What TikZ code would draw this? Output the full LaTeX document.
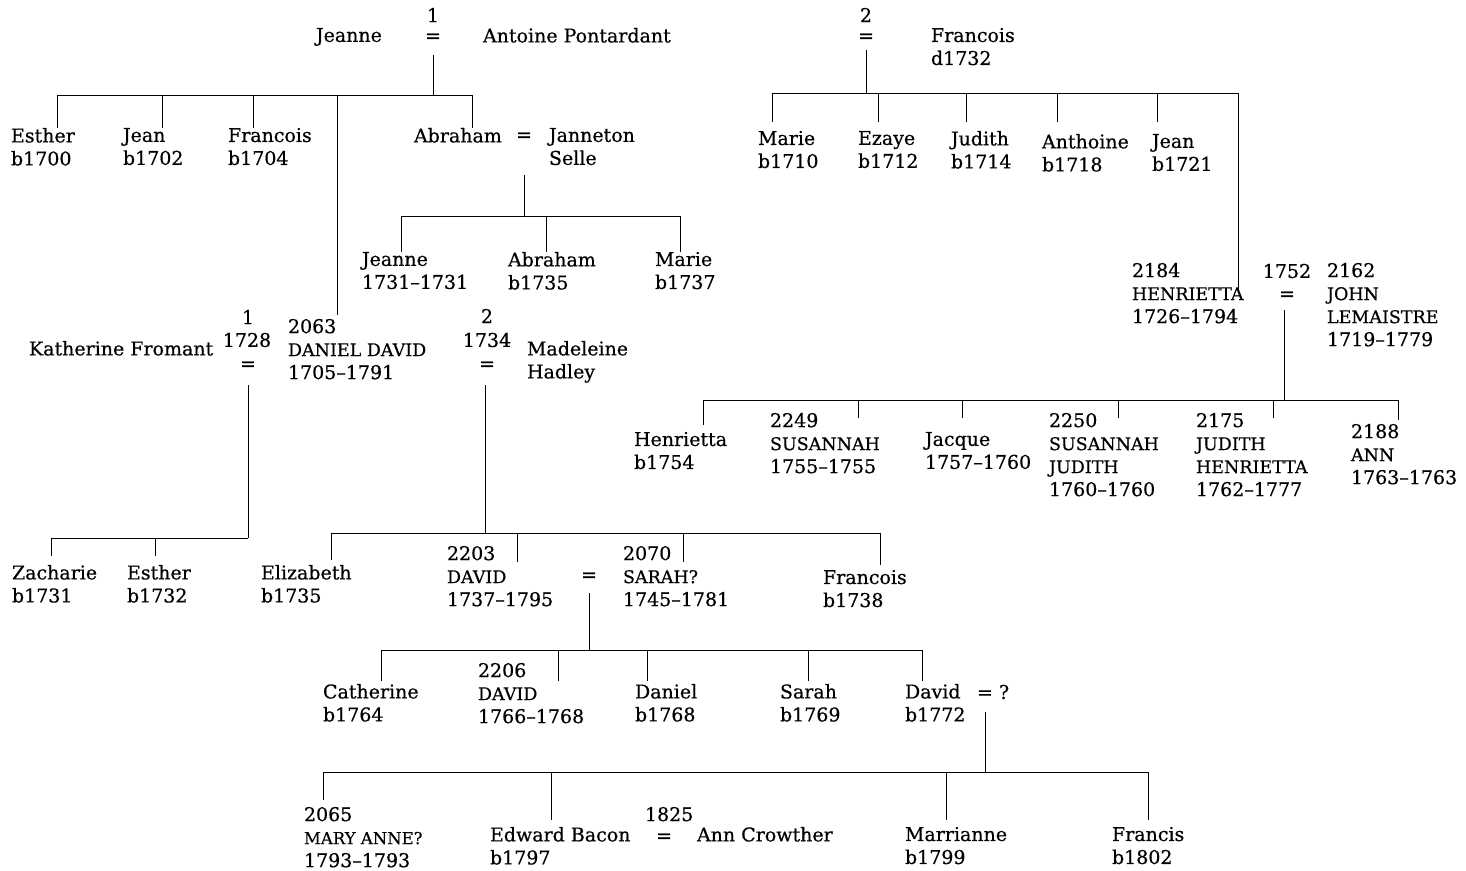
\documentclass[tikz,border=0pt]{standalone}
\usepackage{fontspec}
\setmainfont[UprightFeatures={FakeBold=0.5}]{DejaVu Serif}
\newcommand\capsz{\fontsize{17.5}{23}\selectfont}
\begin{document}
\begin{tikzpicture}[x=1pt,y=-1pt,
  every node/.style={inner sep=0pt, outer sep=0pt, font=\fontsize{19}{23}\selectfont},
  person/.style={anchor=north west, align=left},
  sym/.style={anchor=center},
  ln/.style={line width=0.8pt}]
\useasboundingbox (0,0) rectangle (1466,870);
% ---------- family 1
\node[sym] (n1) at (433,15) {1};
\node[person] (jeanne) at (316,28) {Jeanne};
\node[sym] (eq1) at (433,38) {=};
\node[person] (antoine) at (483,28) {Antoine Pontardant};
\node[person] (esther) at (11,128) {Esther\\b1700};
\node[person] (jean) at (123,128) {Jean\\b1702};
\node[person] (francois) at (228,128) {Francois\\b1704};
\node[person] (abraham) at (414,128) {Abraham};
\node[sym] (eqab) at (524,137) {=};
\node[person] (janneton) at (549,128) {Janneton\\Selle};
\node[person] (jeanneb) at (362,252) {Jeanne\\1731--1731};
\node[person] (abrahamb) at (508,252) {Abraham\\b1735};
\node[person] (marieb) at (655,252) {Marie\\b1737};
% ---------- family 2
\node[sym] (n2) at (866,15) {2};
\node[sym] (eq2) at (866,38) {=};
\node[person] (francoisd) at (931,28) {Francois\\d1732};
\node[person] (marie) at (758,131) {Marie\\b1710};
\node[person] (ezaye) at (858,131) {Ezaye\\b1712};
\node[person] (judith) at (951,131) {Judith\\b1714};
\node[person] (anthoine) at (1042,134) {Anthoine\\b1718};
\node[person] (jeanc) at (1152,134) {Jean\\b1721};
\node[person] (henrietta) at (1132,263) {2184\\{\capsz HENRIETTA}\\1726--1794};
\node[sym] (y1752) at (1287,271) {1752};
\node[sym] (eq3) at (1287,296) {=};
\node[person] (john) at (1327,263) {2162\\{\capsz JOHN}\\{\capsz LEMAISTRE}\\1719--1779};
\node[person] (henriettab) at (634,432) {Henrietta\\b1754};
\node[person] (susannah) at (770,413) {2249\\{\capsz SUSANNAH}\\1755--1755};
\node[person] (jacque) at (925,432) {Jacque\\1757--1760};
\node[person] (susannahb) at (1049,413) {2250\\{\capsz SUSANNAH}\\{\capsz JUDITH}\\1760--1760};
\node[person] (judithb) at (1196,413) {2175\\{\capsz JUDITH}\\{\capsz HENRIETTA}\\1762--1777};
\node[person] (ann) at (1351,424) {2188\\{\capsz ANN}\\1763--1763};
% ---------- Daniel David
\node[person] (katherine) at (29,341) {Katherine Fromant};
\node[sym] (m1) at (248,317) {1};
\node[sym] (y1728) at (247,340) {1728};
\node[sym] (eq4) at (248,366) {=};
\node[person] (daniel) at (288,319) {2063\\{\capsz DANIEL\ DAVID}\\1705--1791};
\node[sym] (m2) at (487,316) {2};
\node[sym] (y1734) at (487,340) {1734};
\node[sym] (eq5) at (487,366) {=};
\node[person] (madeleine) at (527,341) {Madeleine\\Hadley};
\node[person] (zacharie) at (12,565) {Zacharie\\b1731};
\node[person] (estherb) at (127,565) {Esther\\b1732};
\node[person] (elizabeth) at (261,565) {Elizabeth\\b1735};
\node[person] (david) at (447,546) {2203\\{\capsz DAVID}\\1737--1795};
\node[sym] (eq6) at (589,577) {=};
\node[person] (sarah) at (623,546) {2070\\{\capsz SARAH?}\\1745--1781};
\node[person] (francoisb) at (823,570) {Francois\\b1738};
\node[person] (catherine) at (323,684) {Catherine\\b1764};
\node[person] (davidb) at (478,663) {2206\\{\capsz DAVID}\\1766--1768};
\node[person] (danielb) at (635,684) {Daniel\\b1768};
\node[person] (sarahb) at (780,684) {Sarah\\b1769};
\node[person] (davidc) at (905,684) {David\\b1772};
\node[anchor=west] (eq7) at (977,692) {= ?};
\node[person] (mary) at (304,807) {2065\\{\fontsize{16.5}{23}\selectfont MARY ANNE?}\\1793--1793};
\node[person] (edward) at (490,827) {Edward Bacon\\b1797};
\node[person] (y1825) at (645,807) {1825};
\node[sym] (eq8) at (664,838) {=};
\node[person] (annc) at (697,827) {Ann Crowther};
\node[person] (marrianne) at (905,827) {Marrianne\\b1799};
\node[person] (francis) at (1112,827) {Francis\\b1802};
% ---------- lines
\draw[ln] (433,55) -- (433,95);
\draw[ln] (57,95) -- (472,95);
\foreach \x in {57,162,253,472} \draw[ln] (\x,95) -- (\x,128);
\draw[ln] (337,95) -- (337,315);
\draw[ln] (524,175) -- (524,216);
\draw[ln] (401,216) -- (680,216);
\foreach \x in {401,546,680} \draw[ln] (\x,216) -- (\x,252);
\draw[ln] (866,50) -- (866,93);
\draw[ln] (772,93) -- (1238,93);
\foreach \x in {772,878,966,1057,1157} \draw[ln] (\x,93) -- (\x,122);
\draw[ln] (1238,93) -- (1238,292);
\draw[ln] (1284,310) -- (1284,400);
\draw[ln] (703,400) -- (1398,400);
\foreach \x/\y in {703/425,858/418,962/418,1118/418,1273/418,1398/420} \draw[ln] (\x,400) -- (\x,\y);
\draw[ln] (248,385) -- (248,538);
\draw[ln] (51,538) -- (248,538);
\foreach \x in {51,155} \draw[ln] (\x,538) -- (\x,556);
\draw[ln] (485,385) -- (485,533);
\draw[ln] (331,533) -- (880,533);
\foreach \x/\y in {331/560,517/562,683/562,880/565} \draw[ln] (\x,533) -- (\x,\y);
\draw[ln] (589,593) -- (589,650);
\draw[ln] (381,650) -- (922,650);
\foreach \x in {381,558,647,808,922} \draw[ln] (\x,650) -- (\x,681);
\draw[ln] (985,712) -- (985,772);
\draw[ln] (323,772) -- (1148,772);
\foreach \x/\y in {323/800,551/820,946/820,1148/820} \draw[ln] (\x,772) -- (\x,\y);
\end{tikzpicture}
\end{document}
